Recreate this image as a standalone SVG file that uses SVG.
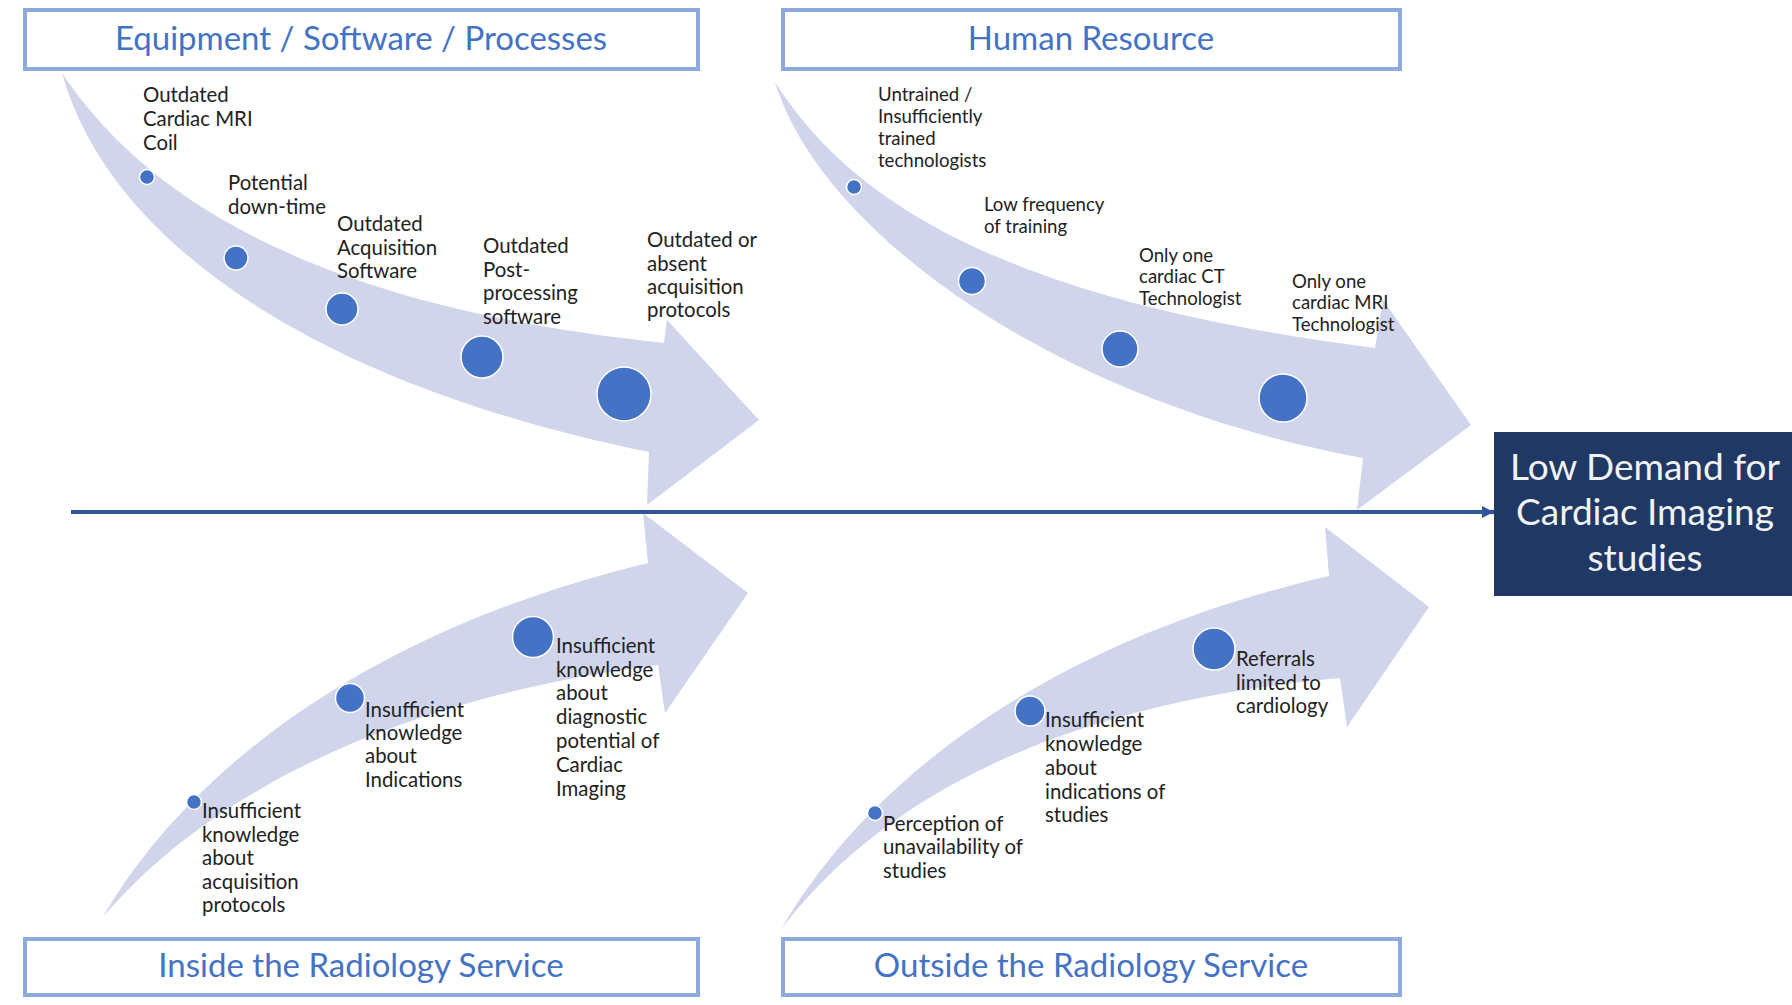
<svg xmlns="http://www.w3.org/2000/svg" width="1792" height="1005" viewBox="0 0 1792 1005">
<defs>
<style>
.txt{font-family:Lato,"Open Sans","Liberation Sans",sans-serif;fill:#222222}
.b1{font-size:20.4px}
.b2{font-size:18.6px}
.title{font-family:Lato,"Open Sans","Liberation Sans",sans-serif;font-size:33px;fill:#4472C4;text-anchor:middle}
.box{fill:#FFFFFF;stroke:#8EA9DB;stroke-width:4}
.band{fill:#D0D5EB}
.dot{fill:#4472C4;stroke:#FFFFFF;stroke-width:1.5}
.effect{fill:#1F3864}
.efftxt{font-family:Lato,"Open Sans","Liberation Sans",sans-serif;font-size:37px;fill:#F2F2F2;text-anchor:middle}
</style>
<marker id="head" markerWidth="14" markerHeight="14" refX="12" refY="6" orient="auto" markerUnits="userSpaceOnUse">
<path d="M0,0 L12,6 L0,12 Z" fill="#2F5597"/>
</marker>
</defs>
<rect width="1792" height="1005" fill="#FFFFFF"/>

<g id="cat-equipment">
<rect class="box" x="25" y="10" width="673" height="59"/>
<text class="title" x="361" y="50">Equipment / Software / Processes</text>
</g>
<g id="cat-human">
<rect class="box" x="783" y="10" width="617" height="59"/>
<text class="title" x="1091" y="50">Human Resource</text>
</g>
<g id="cat-inside">
<rect class="box" x="25" y="939" width="673" height="56"/>
<text class="title" x="361" y="977">Inside the Radiology Service</text>
</g>
<g id="cat-outside">
<rect class="box" x="783" y="939" width="617" height="56"/>
<text class="title" x="1091" y="977">Outside the Radiology Service</text>
</g>

<g id="arrow-equipment">
<path class="band" d="M62,73 C140,190 300,305 664,343 L667,320 L759,420 L647,505 L649,452 C320,385 110,245 62,73 Z"/>
<circle class="dot" cx="147" cy="177" r="7.5"/>
<circle class="dot" cx="236" cy="258" r="12"/>
<circle class="dot" cx="342" cy="309" r="16"/>
<circle class="dot" cx="482" cy="357" r="21"/>
<circle class="dot" cx="624" cy="394" r="27"/>
<text class="txt b1"><tspan x="143" y="102">Outdated</tspan><tspan x="143" y="126">Cardiac MRI</tspan><tspan x="143" y="150">Coil</tspan></text>
<text class="txt b1"><tspan x="228" y="190">Potential</tspan><tspan x="228" y="214">down-time</tspan></text>
<text class="txt b1"><tspan x="337" y="231">Outdated</tspan><tspan x="337" y="255">Acquisition</tspan><tspan x="337" y="278">Software</tspan></text>
<text class="txt b1"><tspan x="483" y="253">Outdated</tspan><tspan x="483" y="277">Post-</tspan><tspan x="483" y="300">processing</tspan><tspan x="483" y="324">software</tspan></text>
<text class="txt b1"><tspan x="647" y="247">Outdated or</tspan><tspan x="647" y="271">absent</tspan><tspan x="647" y="294">acquisition</tspan><tspan x="647" y="317">protocols</tspan></text>
</g>

<g id="arrow-human">
<path class="band" d="M775,82 C850,200 1000,300 1375,348 L1383,300 L1471,425 L1357,510 L1363,458 C1050,400 820,230 775,82 Z"/>
<circle class="dot" cx="854" cy="187" r="7.5"/>
<circle class="dot" cx="972" cy="281" r="13.5"/>
<circle class="dot" cx="1120" cy="349" r="18"/>
<circle class="dot" cx="1283" cy="398" r="24"/>
<text class="txt b2"><tspan x="878" y="101">Untrained /</tspan><tspan x="878" y="123">Insufficiently</tspan><tspan x="878" y="145">trained</tspan><tspan x="878" y="167">technologists</tspan></text>
<text class="txt b2"><tspan x="984" y="211">Low frequency</tspan><tspan x="984" y="233">of training</tspan></text>
<text class="txt b2"><tspan x="1139" y="262">Only one</tspan><tspan x="1139" y="283">cardiac CT</tspan><tspan x="1139" y="305">Technologist</tspan></text>
<text class="txt b2"><tspan x="1292" y="288">Only one</tspan><tspan x="1292" y="309">cardiac MRI</tspan><tspan x="1292" y="331">Technologist</tspan></text>
</g>

<g id="arrow-inside">
<path class="band" d="M103,917 C170,800 330,640 648,563 L643,513 L748,593 L665,713 L658,665 C420,695 220,780 103,917 Z"/>
<circle class="dot" cx="194" cy="802" r="7.5"/>
<circle class="dot" cx="350" cy="698" r="14.5"/>
<circle class="dot" cx="533" cy="637" r="20.5"/>
<text class="txt b1"><tspan x="202" y="818">Insufficient</tspan><tspan x="202" y="842">knowledge</tspan><tspan x="202" y="865">about</tspan><tspan x="202" y="889">acquisition</tspan><tspan x="202" y="912">protocols</tspan></text>
<text class="txt b1"><tspan x="365" y="717">Insufficient</tspan><tspan x="365" y="740">knowledge</tspan><tspan x="365" y="763">about</tspan><tspan x="365" y="787">Indications</tspan></text>
<text class="txt b1"><tspan x="556" y="653">Insufficient</tspan><tspan x="556" y="677">knowledge</tspan><tspan x="556" y="700">about</tspan><tspan x="556" y="724">diagnostic</tspan><tspan x="556" y="748">potential of</tspan><tspan x="556" y="772">Cardiac</tspan><tspan x="556" y="796">Imaging</tspan></text>
</g>

<g id="arrow-outside">
<path class="band" d="M782,928 C850,810 1010,650 1329,576 L1325,527 L1429,607 L1347,727 L1340,678 C1100,700 900,775 782,928 Z"/>
<circle class="dot" cx="875" cy="813" r="7.5"/>
<circle class="dot" cx="1030" cy="711" r="15"/>
<circle class="dot" cx="1214" cy="649" r="21"/>
<text class="txt b1"><tspan x="883" y="831">Perception of</tspan><tspan x="883" y="854">unavailability of</tspan><tspan x="883" y="878">studies</tspan></text>
<text class="txt b1"><tspan x="1045" y="727">Insufficient</tspan><tspan x="1045" y="751">knowledge</tspan><tspan x="1045" y="775">about</tspan><tspan x="1045" y="799">indications of</tspan><tspan x="1045" y="822">studies</tspan></text>
<text class="txt b1"><tspan x="1236" y="666">Referrals</tspan><tspan x="1236" y="690">limited to</tspan><tspan x="1236" y="713">cardiology</tspan></text>
</g>

<g id="connectors">
<line x1="71" y1="512" x2="1494" y2="512" stroke="#2F5597" stroke-width="4" marker-end="url(#head)"/>
</g>

<g id="effect">
<rect class="effect" x="1494" y="432" width="298" height="164"/>
<text class="efftxt"><tspan x="1645" y="480">Low Demand for</tspan><tspan x="1645" y="525">Cardiac Imaging</tspan><tspan x="1645" y="571">studies</tspan></text>
</g>
</svg>
